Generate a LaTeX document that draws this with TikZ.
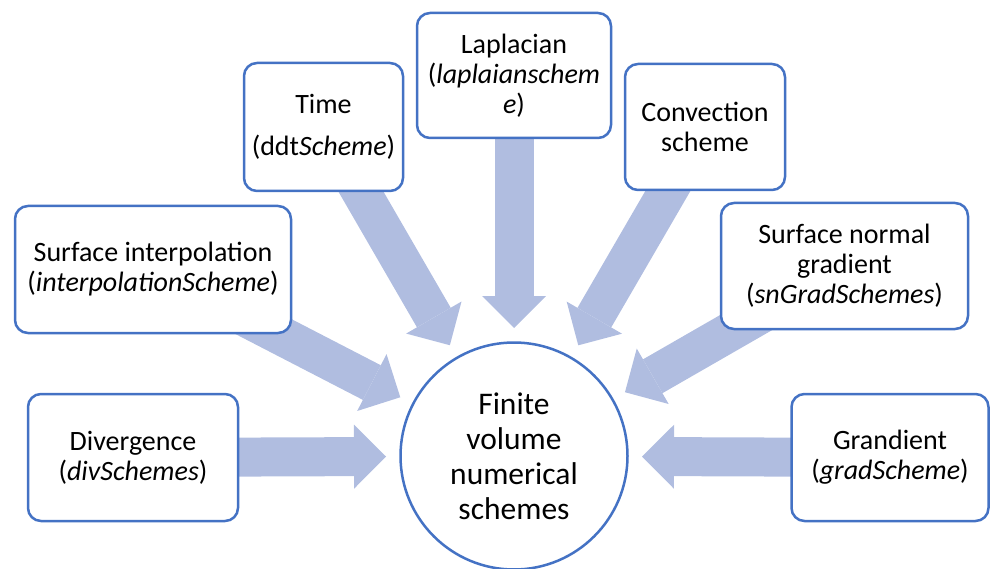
\documentclass[tikz,border=0pt]{standalone}
\usepackage{fontspec}
\setmainfont{Carlito}
\usetikzlibrary{arrows.meta,calc}
\pgfdeclarelayer{back}
\pgfsetlayers{back,main}
\definecolor{boxblue}{RGB}{68,114,196}
\definecolor{arrowfill}{RGB}{176,189,224}
\tikzset{
  scheme/.style={draw=boxblue, line width=2.5pt, fill=white, rounded corners=13pt,
    align=center, inner sep=0pt, font=\fontsize{28}{30}\selectfont},
  hub/.style={circle, draw=boxblue, line width=2.5pt, fill=white, align=center,
    inner sep=0pt, minimum size=227pt, font=\fontsize{31.5}{35}\selectfont},
  flow/.style={arrowfill, line width=39pt,
    -{Triangle[width=64pt 0 0, length=32pt 0 0, line width=0pt]}}
}
\begin{document}
\begin{tikzpicture}[x=1pt,y=-1pt]
\useasboundingbox (0,0) rectangle (992,569);

% central hub
\node[hub] (hub) at (514,456) {Finite\\volume\\numerical\\schemes};

% surrounding scheme boxes
\node[scheme, minimum width=210pt, minimum height=127pt] (div) at (133,457.5)
  {Divergence\\(\textit{divSchemes})};
\node[scheme, minimum width=276pt, minimum height=127pt] (interp) at (153,269.5)
  {Surface interpolation\\(\textit{interpolationScheme})};
\node[scheme, minimum width=159pt, minimum height=128pt] (time) at (323.5,127)
  {Time\\[12pt](ddt\textit{Scheme})};
\node[scheme, minimum width=194pt, minimum height=125pt] (lap) at (514,75.5)
  {Laplacian\\(\textit{laplaianschem}\\\textit{e})};
\node[scheme, minimum width=160pt, minimum height=126pt] (conv) at (705,127)
  {Convection\\scheme};
\node[scheme, minimum width=247pt, minimum height=126pt] (sngrad) at (844.5,266)
  {Surface normal\\gradient\\(\textit{snGradSchemes})};
\node[scheme, minimum width=197pt, minimum height=127pt] (grad) at (890,457.5)
  {Grandient\\(\textit{gradScheme})};

% block arrows pointing at the hub, drawn behind the boxes
\begin{pgfonlayer}{back}
\foreach \src in {div,interp,time,lap,conv,sngrad,grad}
  \draw[flow] (\src.center) -- ($(hub.center)!128pt!(\src.center)$);
\end{pgfonlayer}
\end{tikzpicture}
\end{document}
